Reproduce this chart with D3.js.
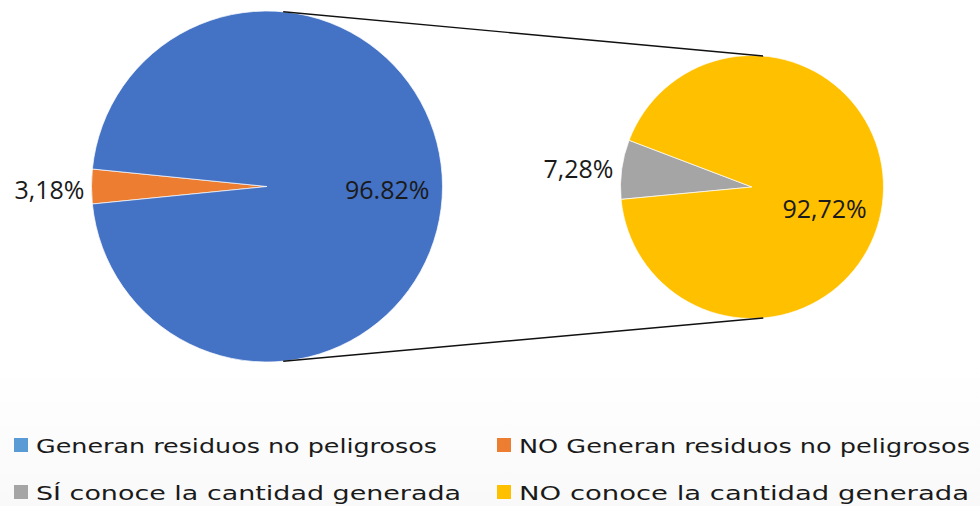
<!DOCTYPE html>
<html>
<head>
<meta charset="utf-8">
<script src="https://cdn.jsdelivr.net/npm/d3@7"></script>
<style>
  html, body { margin: 0; padding: 0; background: #fff; }
  svg { display: block; }
</style>
</head>
<body>
<svg id="chart" width="980" height="506"></svg>
<script>
// ---- data ----
const mainCategories = ["NO Generan residuos no peligrosos", "Generan residuos no peligrosos"];
const mainValues = [3.18, 96.82];
const mainValueLabels = ["3,18%", "96.82%"];

const subCategories = ["SÍ conoce la cantidad generada", "NO conoce la cantidad generada"];
const subValues = [7.28, 92.72];
const subValueLabels = ["7,28%", "92,72%"];

const legendLabels = [
  "Generan residuos no peligrosos",
  "NO Generan residuos no peligrosos",
  "SÍ conoce la cantidad generada",
  "NO conoce la cantidad generada"
];

// ---- styles ----
const colorOf = {
  "Generan residuos no peligrosos": "#4472C4",
  "NO Generan residuos no peligrosos": "#ED7D31",
  "SÍ conoce la cantidad generada": "#A5A5A5",
  "NO conoce la cantidad generada": "#FFC000"
};
const legendColorOf = Object.assign({}, colorOf, {"Generan residuos no peligrosos": "#5B9BD5"});

const svg = d3.select("#chart");
const defs = svg.append("defs");
const grad = defs.append("linearGradient").attr("id", "bg").attr("x1", 0).attr("y1", 0).attr("x2", 0).attr("y2", 1);
grad.append("stop").attr("offset", "0").attr("stop-color", "#ffffff");
grad.append("stop").attr("offset", "0.72").attr("stop-color", "#ffffff");
grad.append("stop").attr("offset", "1").attr("stop-color", "#f9f9f9");
svg.append("rect").attr("width", 980).attr("height", 506).attr("fill", "url(#bg)");

const deg = Math.PI / 180;

// main pie
const mc = {x: 267, y: 186.5, r: 175.5};
const mainStart = 270 * deg - (mainValues[0] / 100) * Math.PI;
const mainPie = d3.pie().sort(null).value(d => d).startAngle(mainStart).endAngle(mainStart + 2 * Math.PI);
const mainArcs = mainPie(mainValues);
const mainArc = d3.arc().innerRadius(0).outerRadius(mc.r);
const gMain = svg.append("g").attr("transform", `translate(${mc.x},${mc.y})`);
gMain.selectAll("path").data(mainArcs).join("path")
  .attr("d", mainArc)
  .attr("fill", (d, i) => colorOf[mainCategories[i]])
  .attr("stroke", "#fff").attr("stroke-width", 0.7);

// sub pie
const sc = {x: 752, y: 187, r: 131.5};
const subStart = 264.6 * deg;
const subPie = d3.pie().sort(null).value(d => d).startAngle(subStart).endAngle(subStart + 2 * Math.PI);
const subArcs = subPie(subValues);
const subArc = d3.arc().innerRadius(0).outerRadius(sc.r);
const gSub = svg.append("g").attr("transform", `translate(${sc.x},${sc.y})`);
gSub.selectAll("path").data(subArcs).join("path")
  .attr("d", subArc)
  .attr("fill", (d, i) => colorOf[subCategories[i]])
  .attr("stroke", "#fff").attr("stroke-width", 0.7);

// connector lines
const la = 5.3 * deg, ra = 4.9 * deg;
const lines = [
  [mc.x + mc.r * Math.sin(la), mc.y - mc.r * Math.cos(la), sc.x + sc.r * Math.sin(ra), sc.y - sc.r * Math.cos(ra)],
  [mc.x + mc.r * Math.sin(la), mc.y + mc.r * Math.cos(la), sc.x + sc.r * Math.sin(ra), sc.y + sc.r * Math.cos(ra)]
];
svg.selectAll("line.conn").data(lines).join("line")
  .attr("class", "conn")
  .attr("x1", d => d[0]).attr("y1", d => d[1])
  .attr("x2", d => d[2]).attr("y2", d => d[3])
  .attr("stroke", "#111").attr("stroke-width", 1.4);

// value labels
const labelFont = "'Open Sans', 'Noto Sans', sans-serif";
function midAngle(d) { return (d.startAngle + d.endAngle) / 2; }

const mainLabelPos = [
  d => ({x: -mc.r - 7, y: 3.2, anchor: "end"}),
  d => ({x: Math.sin(midAngle(d)) * mc.r * 0.685, y: 3.2, anchor: "middle"})
];
gMain.selectAll("text").data(mainArcs).join("text")
  .each(function(d, i) {
    const p = mainLabelPos[i](d);
    d3.select(this).attr("x", p.x).attr("y", p.y + 9.3).attr("text-anchor", p.anchor);
  })
  .attr("font-family", labelFont).attr("font-size", 25).attr("fill", "#1a1a1a")
  .text((d, i) => mainValueLabels[i]);

const subLabelPos = [
  d => ({x: -sc.r - 7, y: -sc.r * 1.06 * Math.sin(midAngle(d) - 270 * deg) + 0.5, anchor: "end"}),
  d => ({x: sc.r * 0.576 * Math.cos(16.7 * deg), y: sc.r * 0.576 * Math.sin(16.7 * deg), anchor: "middle"})
];
gSub.selectAll("text").data(subArcs).join("text")
  .each(function(d, i) {
    const p = subLabelPos[i](d);
    d3.select(this).attr("x", p.x).attr("y", p.y + 9.3).attr("text-anchor", p.anchor);
  })
  .attr("font-family", labelFont).attr("font-size", 25).attr("fill", "#1a1a1a")
  .text((d, i) => subValueLabels[i]);

// legend
const legendLayout = [
  {x: 14, y: 438, w: 401}, {x: 497, y: 438, w: 451},
  {x: 14, y: 485, w: 425}, {x: 497, y: 485, w: 450}
];
const lg = svg.append("g");
const items = lg.selectAll("g").data(legendLabels).join("g")
  .attr("transform", (d, i) => `translate(${legendLayout[i].x},${legendLayout[i].y})`);
items.append("rect").attr("width", 14).attr("height", 14).attr("fill", d => legendColorOf[d]);
items.append("text")
  .attr("x", 22).attr("y", 15)
  .attr("font-family", "'DejaVu Sans', sans-serif").attr("font-size", 20)
  .attr("fill", "#1a1a1a")
  .attr("textLength", (d, i) => legendLayout[i].w)
  .attr("lengthAdjust", "spacingAndGlyphs")
  .text(d => d);
</script>
</body>
</html>
